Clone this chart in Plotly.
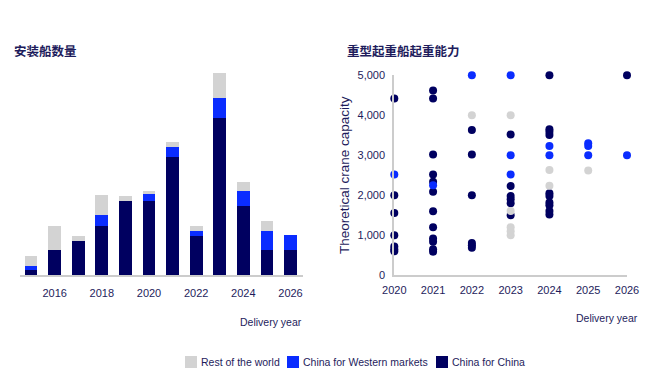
import plotly.graph_objects as go

# ---- Installation vessels delivered per year (stacked) ----
years = [2015, 2016, 2017, 2018, 2019, 2020, 2021, 2022, 2023, 2024, 2025, 2026]
china_for_china = [1, 5, 7, 10, 15, 15, 24, 8, 32, 14, 5, 5]
china_for_western = [0.9, 0, 0, 2.2, 0, 1.5, 2, 1, 4, 3, 4, 3.1]
rest_of_world = [2, 5, 1, 4, 1, 0.6, 1, 0.9, 5, 2, 2, 0]
bar_ticks = [2016, 2018, 2020, 2022, 2024, 2026]

# ---- Heavy-lift vessel crane capacity (t) by delivery year ----
cfc_year = [2020] * 7 + [2021] * 12 + [2022] * 6 + [2023] * 6 + [2024] * 10 + [2026]
cfc_cap = [4420, 2000, 1560, 1000, 720, 650, 600,
           4620, 4420, 3020, 2520, 2340, 2090, 1600, 1200, 920, 840, 650, 590,
           3630, 3020, 2000, 810, 750, 690,
           3520, 2230, 1980, 1900, 1800, 1500,
           5000, 3650, 3590, 3510, 2050, 1980, 1820, 1750, 1610, 1520,
           5000]
cfw_year = [2020, 2021, 2022, 2023, 2023, 2023, 2024, 2024, 2025, 2025, 2025, 2026]
cfw_cap = [2520, 2250, 5000, 5000, 3000, 2520, 3230, 3000, 3300, 3230, 3000, 3000]
row_year = [2022, 2023, 2023, 2023, 2023, 2023, 2024, 2024, 2025]
row_cap = [4000, 4000, 1610, 1200, 1100, 1000, 2630, 2240, 2620]
scatter_ticks = [2020, 2021, 2022, 2023, 2024, 2025, 2026]
cap_ticks = [0, 1000, 2000, 3000, 4000, 5000]

NAVY = "#000060"
BLUE = "#0A2CFF"
GREY = "#D3D3D3"
TEXT = "#1E1C5C"
AXIS = "#CCCCCC"
SANS = "Liberation Sans, Arial, sans-serif"
CJK = "Noto Sans CJK SC, sans-serif"

W, H = 654, 371


def px(x):
    return x / W


def py(y):
    return 1 - y / H


fig = go.Figure()

for name, vals, col in [("China for China", china_for_china, NAVY),
                        ("China for Western markets", china_for_western, BLUE),
                        ("Rest of the world", rest_of_world, GREY)]:
    fig.add_trace(go.Bar(x=years, y=vals, name=name, marker=dict(color=col, line=dict(width=0)),
                         width=0.54, xaxis="x", yaxis="y", showlegend=False))

for yrs, caps, col in [(cfc_year, cfc_cap, NAVY), (cfw_year, cfw_cap, BLUE), (row_year, row_cap, GREY)]:
    fig.add_trace(go.Scatter(x=yrs, y=caps, mode="markers", cliponaxis=False,
                             marker=dict(color=col, size=8, line=dict(width=0)),
                             xaxis="x2", yaxis="y2", showlegend=False))

tickfont = dict(family=SANS, size=11, color=TEXT)

fig.update_layout(
    width=W, height=H,
    margin=dict(l=0, r=0, t=0, b=0, autoexpand=False),
    paper_bgcolor="white", plot_bgcolor="white",
    barmode="stack",
    xaxis=dict(domain=[px(20), px(303)], range=[2014.53, 2026.53], automargin=False,
               tickvals=bar_ticks, ticktext=[str(t) for t in bar_ticks],
               showline=True, linecolor=AXIS, linewidth=2, showgrid=False, zeroline=False,
               ticks="outside", ticklen=7, tickcolor="rgba(0,0,0,0)", tickfont=tickfont),
    yaxis=dict(domain=[py(275), py(68.4)], range=[0, 42], visible=False, automargin=False),
    xaxis2=dict(domain=[px(394.3), px(627)], range=[2020, 2026], anchor="y2", automargin=False,
                tickvals=scatter_ticks, showline=True, linecolor=AXIS, linewidth=2,
                showgrid=False, zeroline=False,
                ticks="outside", ticklen=3, tickcolor="rgba(0,0,0,0)", tickfont=tickfont),
    yaxis2=dict(domain=[py(275.3), py(75.3)], range=[0, 5000], anchor="x2", automargin=False,
                tickvals=cap_ticks, tickformat=",", showline=True, linecolor=AXIS, linewidth=2,
                showgrid=False, zeroline=False,
                ticks="outside", ticklen=5, tickcolor="rgba(0,0,0,0)", tickfont=tickfont,
                title=dict(text="Theoretical crane capacity", standoff=5,
                           font=dict(family=SANS, size=13.5, color=TEXT))),
)

annotations = [
    dict(text="<b>安装船数量</b>", x=px(13), y=py(50), xanchor="left", yanchor="middle",
         font=dict(family=CJK, size=12.5, color=TEXT)),
    dict(text="<b>重型起重船起重能力</b>", x=px(346), y=py(50), xanchor="left", yanchor="middle",
         font=dict(family=CJK, size=12.5, color=TEXT)),
    dict(text="Delivery year", x=px(303), y=py(322), xanchor="right", yanchor="middle",
         font=dict(family=SANS, size=10.5, color=TEXT)),
    dict(text="Delivery year", x=px(639), y=py(318), xanchor="right", yanchor="middle",
         font=dict(family=SANS, size=10.5, color=TEXT)),
]

# Legend: colour swatch followed by its label
legend_items = [("Rest of the world", GREY, 185), ("China for Western markets", BLUE, 287),
                ("China for China", NAVY, 436)]
shapes = []
for label, col, x0 in legend_items:
    shapes.append(dict(type="rect", xref="paper", yref="paper", x0=px(x0), x1=px(x0 + 12),
                       y0=py(368), y1=py(356), fillcolor=col, line=dict(width=0)))
    annotations.append(dict(text=label, x=px(x0 + 15), y=py(362), xanchor="left", yanchor="middle",
                            font=dict(family=SANS, size=10.5, color=TEXT)))

for a in annotations:
    a.update(xref="paper", yref="paper", showarrow=False, borderpad=0)
fig.update_layout(annotations=annotations, shapes=shapes)

fig.write_html("out.html")
